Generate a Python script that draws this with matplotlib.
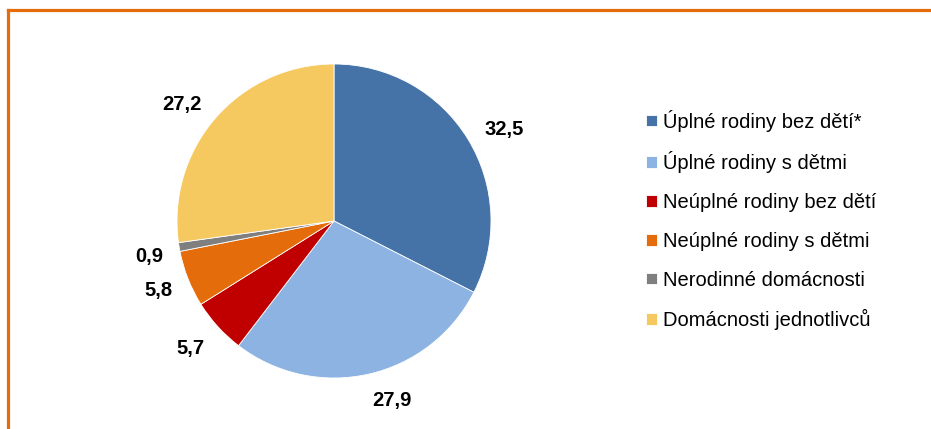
import matplotlib
matplotlib.use('Agg')
import matplotlib.pyplot as plt
import numpy as np
from matplotlib.lines import Line2D

# Data
kategorie = ['Úplné rodiny bez dětí*', 'Úplné rodiny s dětmi', 'Neúplné rodiny bez dětí',
             'Neúplné rodiny s dětmi', 'Nerodinné domácnosti', 'Domácnosti jednotlivců']
hodnoty = [32.5, 27.9, 5.7, 5.8, 0.9, 27.2]
barvy = ['#4573A7', '#8DB3E2', '#C00000', '#E46C0A', '#7F7F7F', '#F6C860']

# umisteni popisku (vzdalenost od stredu a pootoceni ve stupnich)
popisek_vzd = [1.236, 1.186, 1.216, 1.196, 1.194, 1.227]
popisek_posun = [-2.7, 5.3, -1.2, -0.4, 0.6, 3.2]

plt.rcParams['font.family'] = ['Liberation Sans', 'DejaVu Sans']

W, H = 931, 429
fig = plt.figure(figsize=(W / 100, H / 100), dpi=100)

# osa pro kolac (stred ~ (334, 221) px, polomer ~157 px)
cx, cy, r = 334, 221, 157
ax = fig.add_axes([(cx - r) / W, (H - cy - r) / H, 2 * r / W, 2 * r / H])
wedges, _ = ax.pie(hodnoty, colors=barvy, startangle=90, counterclock=False, radius=1,
                   wedgeprops=dict(edgecolor='white', linewidth=0.6))

for w, val, d, posun in zip(wedges, hodnoty, popisek_vzd, popisek_posun):
    uhel = np.deg2rad((w.theta1 + w.theta2) / 2 + posun)
    ax.text(d * np.cos(uhel), d * np.sin(uhel), f"{val:.1f}".replace('.', ','),
            ha='center', va='center_baseline', fontsize=14.5, fontweight='bold')

ax.set_xlim(-1, 1)
ax.set_ylim(-1, 1)
ax.set_aspect('equal')
ax.axis('off')

# legenda
fig.legend(wedges, kategorie, loc='center left', bbox_to_anchor=(646 / W, 1 - 220 / H),
           frameon=False, fontsize=14.5, borderpad=0, borderaxespad=0,
           handlelength=0.53, handleheight=0.53, handletextpad=0.3, labelspacing=0.98)

# oranzovy ramecek (horni a leva strana)
fig.add_artist(Line2D([8 / W, 1], [1 - 10 / H, 1 - 10 / H], color='#E46C0A', lw=2.3,
                      transform=fig.transFigure))
fig.add_artist(Line2D([8 / W, 8 / W], [0, 1 - 10 / H], color='#E46C0A', lw=2.3,
                      transform=fig.transFigure))

fig.savefig('out.png', dpi=100)
